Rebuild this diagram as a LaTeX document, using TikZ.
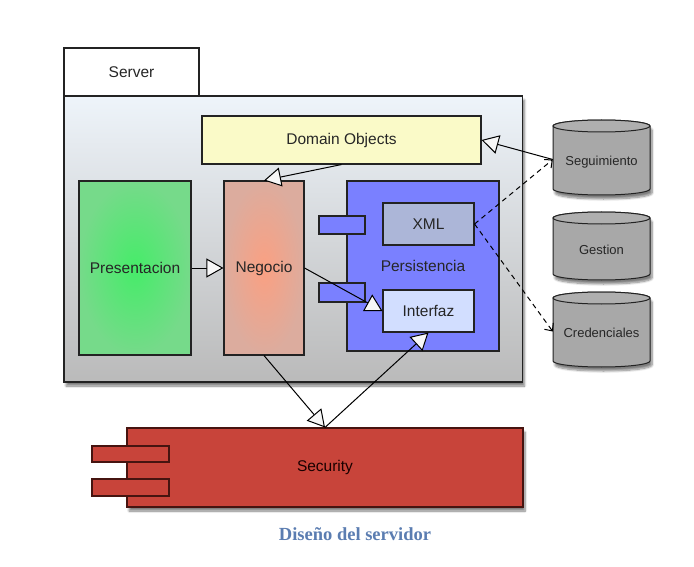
\documentclass[tikz,border=0pt]{standalone}
\usepackage{fontspec}
\setmainfont{Liberation Sans}
\newfontfamily\capfont{Liberation Serif}
\usetikzlibrary{arrows.meta,shadows,shadows.blur}
\definecolor{edgec}{RGB}{35,35,35}
\definecolor{domc}{RGB}{250,250,200}
\definecolor{persc}{RGB}{122,128,255}
\definecolor{xmlc}{RGB}{172,182,216}
\definecolor{intc}{RGB}{210,222,255}
\definecolor{secc}{RGB}{200,68,58}
\definecolor{secedge}{RGB}{70,20,16}
\definecolor{cylc}{RGB}{168,168,168}
\definecolor{capc}{RGB}{91,125,177}
\newcommand\mycyl[5]{%
  \path[draw=edgec, line width=1pt, fill=cylc, shad]
    (553,#2+6) -- (553,#3-6) arc[start angle=180,end angle=360,x radius=48.5pt,y radius=6pt]
    -- (650,#2+6) arc[start angle=0,end angle=180,x radius=48.5pt,y radius=6pt] -- cycle;
  \draw[draw=edgec, line width=1pt, fill=cylc!92!white] (601.5,#2+6) ellipse[x radius=48.5pt, y radius=6pt];
  \node[name=#1, minimum width=97, minimum height=#3-#2, inner sep=0pt] at (601.5,{(#2+#3)/2}) {};
  \node[font=\fontsize{13}{15}\selectfont, text=black!85] at (601.5,#5) {#4};
}
\begin{document}
\begin{tikzpicture}[x=1pt,y=-1pt,
  box/.style={draw=edgec, line width=1.1pt, inner sep=0pt, font=\fontsize{15.5}{18}\selectfont, text=black!85},
  shad/.style={blur shadow={shadow xshift=2pt, shadow yshift=-4pt, shadow blur steps=8, shadow opacity=50}},
  hollow/.style={-{Triangle[length=17pt,width=19pt,fill=white!94!gray]}, line width=1pt, draw=black},
  dep/.style={-{Straight Barb[length=6pt,width=11pt]}, dash pattern=on 5pt off 4pt, line width=1pt, draw=black}]
\useasboundingbox (0,0) rectangle (694,567);
% server package
\node[box, fill=white, minimum width=135, minimum height=48] (tab) at (131.5,72) {Server};
\node[box, shad, top color={rgb,255:red,238;green,244;blue,250}, bottom color={rgb,255:red,186;green,186;blue,186}, minimum width=458.5, minimum height=286] (main) at (293.25,239) {};
% inner components
\node[box, fill=domc, minimum width=279, minimum height=48] (dom) at (341.5,140) {Domain Objects};
\node[box, inner color={rgb,255:red,70;green,236;blue,105}, outer color={rgb,255:red,118;green,218;blue,138}, minimum width=112, minimum height=174] (pres) at (135,268) {Presentacion};
\node[box, inner color={rgb,255:red,250;green,160;blue,130}, outer color={rgb,255:red,220;green,172;blue,158}, minimum width=80, minimum height=174] (neg) at (264,268) {Negocio};
\node[box, fill=persc, minimum width=152, minimum height=170] (pers) at (423,266) {Persistencia};
\node[box, fill=persc, minimum width=46, minimum height=18] (ptab1) at (342,225) {};
\node[box, fill=persc, minimum width=46, minimum height=19] (ptab2) at (342,292.5) {};
\node[box, fill=xmlc, minimum width=91, minimum height=42] (xml) at (428.5,224) {XML};
\node[box, fill=intc, minimum width=91, minimum height=42] (int) at (428.5,311) {Interfaz};
% security
\node[box, shad, draw=secedge, fill=secc, text=black!90!red, minimum width=396, minimum height=79] (sec) at (325,467.5) {Security};
\node[box, draw=secedge, fill=secc, minimum width=77, minimum height=16] (stab1) at (130.5,454) {};
\node[box, draw=secedge, fill=secc, minimum width=77, minimum height=17] (stab2) at (130.5,487.5) {};
% databases
\mycyl{seg}{120}{195}{Seguimiento}{162}
\mycyl{ges}{212}{280}{Gestion}{250}
\mycyl{cred}{292}{367}{Credenciales}{333}
% caption
\node[font=\capfont\bfseries\fontsize{18.5}{21}\selectfont, text=capc] (cap) at (355,534) {Diseño del servidor};
% connectors
\draw[hollow] (dom.south) -- (neg.north);
\draw[hollow] (pres.east) -- (neg.west);
\draw[hollow] (neg.east) -- (int.west);
\draw[hollow] (neg.south) -- (sec.north);
\draw[hollow] (sec.north) -- (int.south);
\draw[hollow] ([yshift=-2pt]seg.west) -- (dom.east);
\draw[dep] (xml.east) -- ([yshift=-2pt]seg.west);
\draw[dep] (xml.east) -- ([yshift=-2pt]cred.west);
\end{tikzpicture}
\end{document}
